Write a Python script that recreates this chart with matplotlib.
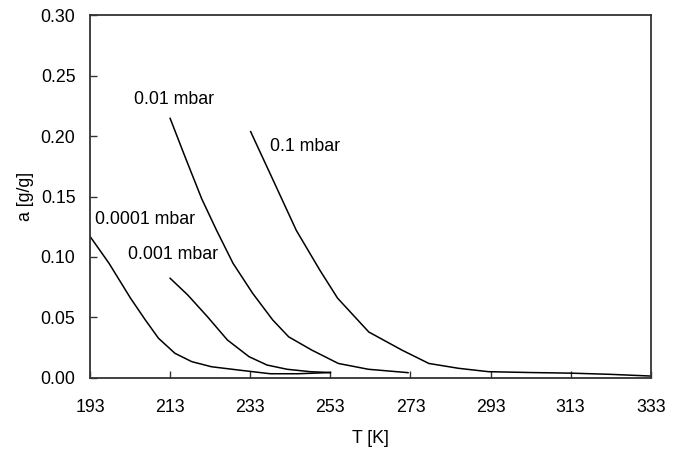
import matplotlib
matplotlib.use("Agg")
import matplotlib.pyplot as plt

plt.rcParams["font.family"] = ["Liberation Sans", "DejaVu Sans"]

# Curvas de adsorcion a distintas presiones
t_00001 = [193, 197.7, 203.1, 206.8, 210.1, 214.2, 218.4, 223.3, 230, 238, 245, 253]
a_00001 = [0.117, 0.095, 0.066, 0.048, 0.0328, 0.0204, 0.0135, 0.0093, 0.0066, 0.0035, 0.0035, 0.0045]

t_0001 = [213, 217.4, 222.3, 227.3, 232.7, 237.2, 242.2, 248, 253]
a_0001 = [0.0824, 0.0686, 0.0507, 0.0314, 0.0176, 0.0107, 0.0072, 0.0052, 0.0045]

t_001 = [213, 216.7, 220.9, 224.6, 228.7, 233.6, 238.6, 242.6, 248.4, 255, 262.5, 272.4]
a_001 = [0.2146, 0.183, 0.148, 0.122, 0.0948, 0.070, 0.048, 0.034, 0.023, 0.012, 0.0072, 0.0044]

t_01 = [233.1, 238.7, 244.5, 250.4, 254.8, 262.6, 270.9, 277.6, 285, 292.5, 303, 313, 323, 333]
a_01 = [0.2036, 0.1636, 0.122, 0.089, 0.066, 0.038, 0.023, 0.012, 0.008, 0.0052, 0.0045, 0.0040, 0.003, 0.0016]

series = [
    (t_00001, a_00001, "0.0001 mbar", (194.2, 0.131)),
    (t_0001, a_0001, "0.001 mbar", (202.4, 0.1017)),
    (t_001, a_001, "0.01 mbar", (203.9, 0.2298)),
    (t_01, a_01, "0.1 mbar", (237.9, 0.191)),
]

xticks = [193, 213, 233, 253, 273, 293, 313, 333]
yticks = [0.00, 0.05, 0.10, 0.15, 0.20, 0.25, 0.30]

fs = 12.8

fig = plt.figure(figsize=(6.8, 4.51), dpi=100)
ax = fig.add_axes([0.1324, 0.1619, 0.8246, 0.8048])

for t, a, etiqueta, pos in series:
    ax.plot(t, a, color="black", linewidth=1.1)
    ax.text(pos[0], pos[1], etiqueta, fontsize=fs, va="center", ha="left")

ax.set_xlim(193, 333)
ax.set_ylim(0, 0.30)
ax.set_xticks(xticks)
ax.set_yticks(yticks)
ax.set_xticklabels([str(x) for x in xticks])
ax.set_yticklabels(["%.2f" % y for y in yticks])
ax.tick_params(direction="in", length=5, width=1, labelsize=fs, color="#333333")
ax.tick_params(axis="y", pad=10.5)
ax.tick_params(axis="x", pad=15)

for s in ax.spines.values():
    s.set_linewidth(1.3)
    s.set_color("#333333")

ax.set_xlabel("T [K]", fontsize=fs, labelpad=10)
ax.set_ylabel("a [g/g]", fontsize=fs, labelpad=5)

fig.savefig("out.png", dpi=100)
